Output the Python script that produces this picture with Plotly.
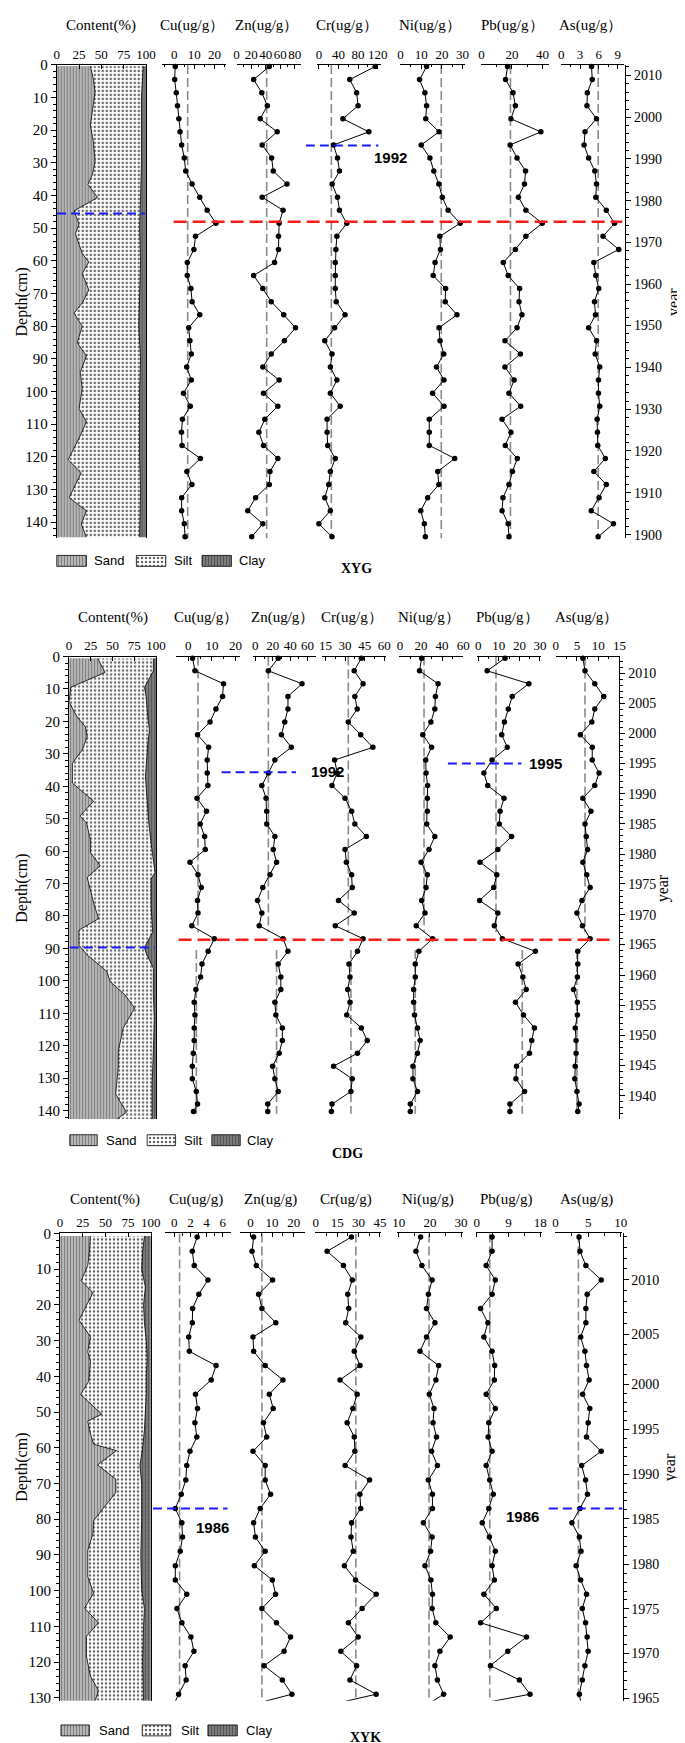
import numpy as np
import plotly.graph_objects as go

W, H = 685, 1743
SERIF = 'Liberation Serif'
SANS = 'Liberation Sans'
METALS = ['Cu', 'Zn', 'Cr', 'Ni', 'Pb', 'As']

# ---------------- XYG core ----------------
xyg_depth = [0.5, 4.5, 8.5, 12.5, 16.5, 20.5, 24.5, 28.5, 32.5, 36.5, 40.5, 44.5, 48.5,
             52.5, 56.5, 60.5, 64.5, 68.5, 72.5, 76.5, 80.5, 84.5, 88.5, 92.5, 96.5,
             100.5, 104.5, 108.5, 112.5, 116.5, 120.5, 124.5, 128.5, 132.5, 136.5, 140.5, 144.5]
xyg_cu = [0.5, 0.2, 1.0, 1.6, 2.3, 2.9, 3.7, 5.0, 5.7, 8.9, 12.7, 16.4, 20.8, 10.6, 9.8, 6.5, 6.5,
          8.3, 8.9, 12.7, 7.2, 7.8, 8.5, 6.2, 8.5, 4.6, 8.0, 4.1, 3.6, 3.9, 13.0, 6.3, 8.8, 3.7,
          3.7, 5.0, 5.4]
xyg_zn = [44.9, 23.4, 34.6, 42.2, 32.4, 55.7, 35.1, 48.1, 50.3, 69.2, 35.1, 63.8, 58.4, 57.5,
          57.5, 52.1, 23.4, 36.0, 47.6, 64.7, 80.9, 65.6, 47.6, 36.0, 58.4, 36.9, 56.6, 38.7,
          30.6, 36.9, 56.6, 45.8, 44.9, 26.1, 15.3, 36.0, 20.7]
xyg_cr = [115, 63, 77, 80, 49, 102, 30, 38, 42, 27, 38, 42, 57, 36.7, 34.7, 33.4, 33.4, 33.4,
          35.4, 53.4, 32, 12, 26.7, 23.4, 36.7, 23.4, 43.4, 16.7, 16.7, 18, 33.4, 23.4, 20, 12,
          23.4, 0, 26.7]
xyg_ni = [12.6, 9.2, 11.8, 12.6, 12.2, 18.6, 10, 14.2, 16.1, 18.5, 20.2, 23, 28.8, 19, 19.3,
          16.7, 15.8, 21.8, 21.6, 27.3, 18.6, 19.1, 20.9, 17.4, 21, 15.5, 21, 13.9, 13.9, 13.9,
          26.2, 18, 18.5, 13.1, 9.8, 11.5, 12]
xyg_pb = [17.1, 15.8, 20.7, 22.2, 19.3, 38.9, 18.8, 23.3, 28.9, 28.2, 24.2, 29.1, 39.8, 29.1,
          22.2, 14.3, 17.5, 25, 24.6, 26.5, 23.3, 15.4, 25.5, 15.4, 21.4, 18, 25.7, 13.5, 19.3,
          15.6, 23.5, 20.3, 18, 14.1, 13.5, 17.5, 18]
xyg_as = [4.84, 4.95, 4.17, 4.11, 5.63, 3.8, 3.65, 4.38, 5.36, 5.63, 5.52, 7.19, 8.5, 6.67, 9.17,
          5.21, 5.52, 5.99, 5.31, 5.47, 4.38, 5.63, 5.42, 6.15, 5.94, 5.94, 6.15, 5.73, 5.78,
          5.83, 7.03, 5.21, 7.19, 6.04, 4.79, 8.33, 5.89]
xyg_bg = [6.7, 41.3, 25.4, 19.7, 19.0, 5.9]
xyg_ticks = [[0, 10, 20], [0, 20, 40, 60, 80], [0, 40, 80, 120], [0, 10, 20, 30], [0, 20, 40], [0, 3, 6, 9]]
xyg_years = [2010, 2000, 1990, 1980, 1970, 1960, 1950, 1940, 1930, 1920, 1910, 1900]
xyg_year_depth = [3.2, 16.1, 28.7, 41.6, 54.4, 67.1, 79.8, 92.6, 105.5, 118.2, 131.0, 143.9]
xyg_sand_depth = [0.4, 4.3, 8.3, 15.4, 18.4, 23.4, 29.5, 33.6, 36.6, 40.6, 44.7, 48.7, 51.7, 57.8,
                  60.3, 63.9, 68.9, 72.9, 76, 80, 85.1, 89.1, 94.1, 99.2, 105.2, 109.3, 114.3,
                  120.9, 124.9, 132.5, 136.5, 140.6, 144.6]
xyg_sand = [37.7, 41, 43, 39.5, 37.7, 41, 43, 40, 35, 45.8, 19.4, 25, 21, 28.6, 36, 28.6, 36,
            28.6, 19.4, 28.6, 23, 33.3, 26.4, 28.6, 25, 33.3, 25, 12.8, 27.5, 13.9, 33.3, 27.5, 33.3]
xyg_clay_depth = [0.4, 10, 20, 30, 40, 50, 60, 70, 80, 90, 100, 110, 120, 130, 140, 144.6]
xyg_clay = [97, 95, 95, 95, 94, 93, 94, 93, 92, 94, 93, 93, 93, 94, 93, 93]
xyg_red = 48.0
xyg_blue_content = 45.5
xyg_1992 = 24.7

# ---------------- CDG core ----------------
cdg_depth = [0.5, 4.4, 8.4, 12.3, 16.2, 20.2, 24.1, 28.0, 31.9, 35.9, 39.8, 43.7, 47.7, 51.6,
             55.5, 59.5, 63.4, 67.3, 71.2, 75.2, 79.1, 83.0, 87.0, 90.9, 94.8, 98.8, 102.7,
             106.6, 110.5, 114.5, 118.4, 122.3, 126.3, 130.2, 134.1, 138.0, 140.3]
cdg_cu = [1.8, 2.8, 14.9, 14.5, 11.7, 9.2, 3.9, 8.6, 8.0, 8.0, 8.3, 3.7, 7.7, 5.0, 6.9, 7.2, 0.7,
          4.1, 5.5, 3.9, 4.1, 1.5, 11.0, 8.4, 5.8, 5.2, 3.2, 2.5, 2.8, 2.5, 2.5, 2.1, 1.7, 1.7,
          3.4, 3.9, 2.2]
cdg_zn = [26.3, 15, 53.6, 37.5, 37.5, 33.8, 30, 41.3, 22.5, 15, 7.5, 12.4, 13.1, 13.1, 22.5,
          20.6, 24.4, 16.9, 8.6, 2.6, 7.5, 4.5, 31.9, 37.5, 26.3, 29.3, 29.3, 22.5, 23.6, 31.1,
          31.1, 27.4, 19.9, 22.5, 26.3, 14.3, 14.3]
cdg_cr = [42.5, 37, 43.8, 37.5, 39.3, 32.5, 42, 51.3, 22, 24, 20, 30, 35, 37.5, 46.3, 30, 31, 35,
          35.5, 25, 37, 22.5, 43.8, 39.5, 33, 33.8, 32, 33.8, 31.3, 42.5, 47, 39.5, 21.2, 35.5,
          34.5, 20, 19.5]
cdg_ni = [20.7, 18.6, 36.2, 33.7, 33.1, 29.4, 21.7, 30, 24.5, 24.8, 26.3, 26, 26, 25.4, 33.1,
          27.6, 20.1, 26, 24.8, 20.7, 23.8, 15.5, 31, 18, 14.6, 14.6, 13, 13, 13.9, 16.7, 19.2,
          16.7, 12.4, 12.4, 16.7, 9.9, 9.9]
cdg_pb = [13, 4.3, 24.6, 16.5, 14.6, 12.7, 11.4, 14.1, 6.7, 2.7, 4.6, 12.5, 10.6, 10.2, 16.2,
          9.5, 0.8, 9.0, 7.5, 0.6, 9.5, 7.8, 11.7, 27.8, 19.4, 21.7, 23.3, 18.1, 22, 27.3, 26,
          24.9, 18.6, 18.3, 22.5, 15.4, 15.4]
cdg_as = [6.4, 6.9, 9.2, 11.3, 9.2, 8.5, 5.8, 8.6, 8.6, 10.2, 9.2, 6.4, 8.3, 6.9, 7.2, 7.5, 6.4,
          7.3, 8.1, 6.2, 5.0, 6.3, 8.1, 5.2, 5.2, 5.1, 4.2, 5.1, 5.1, 4.6, 4.8, 4.8, 4.6, 4.5,
          5.0, 5.5, 5.2]
cdg_bg_upper = [4.1, 15, 32.5, 22.9, 8.6, 6.9]
cdg_bg_lower = [3.4, 24.4, 34.5, 14.6, 21.4, 5.0]
cdg_ticks = [[0, 10, 20], [0, 20, 40, 60], [15, 30, 45, 60], [0, 20, 40, 60], [0, 10, 20, 30], [0, 5, 10, 15]]
cdg_years = [2010, 2005, 2000, 1995, 1990, 1985, 1980, 1975, 1970, 1965, 1960, 1955, 1950, 1945, 1940]
cdg_year_depth = [5.2, 14.4, 23.7, 32.9, 42.3, 51.6, 60.9, 70.1, 79.6, 88.8, 98.2, 107.5, 116.8, 126.0, 135.4]
cdg_sand_depth = [0.6, 4.9, 9.5, 12.5, 14.1, 18.7, 21.7, 24.8, 28.8, 32.9, 39, 44.6, 49.2, 51.3,
                  56.4, 60.4, 64.5, 68.1, 76.7, 80.8, 84.4, 89, 92, 97.1, 100.2, 104.3, 108.4,
                  114.5, 121.6, 126.7, 134.9, 140.5, 142.7]
cdg_sand = [32.8, 41.5, 1.9, 1.1, 0, 9.4, 18.9, 20.8, 15.1, 3.8, 3.8, 28.3, 12.5, 20, 24.5, 24.5,
            35.8, 20.8, 29, 34, 11.3, 11.3, 20.8, 43.4, 47.2, 64.2, 75.5, 62.3, 56.6, 56.6, 53.6,
            66, 54.7]
cdg_clay_depth = [0.6, 4.4, 9.5, 12.5, 18.7, 22.7, 26.8, 32.9, 37, 43.1, 51.3, 57.4, 63.5, 66.6,
                  68.6, 76.7, 84.9, 89.7, 91.5, 96.1, 104.3, 111.4, 121.6, 131.8, 141, 142.7]
cdg_clay = [97, 97, 86.8, 88.7, 90.6, 92.5, 90.6, 88.7, 87.9, 89.4, 91.7, 94.3, 97, 98.9, 94.3,
            94.3, 96.2, 86.8, 88.7, 97, 97, 98, 97, 95.5, 95.5, 95.5]
cdg_red = 87.3
cdg_blue_content = 89.7
cdg_1992 = 35.7
cdg_1995 = 33.0

# ---------------- XYK core ----------------
xyk_depth = [1, 5, 9, 13, 17, 21, 25, 29, 33, 37, 41, 45, 49, 53, 57, 61, 65, 69, 73, 77, 81,
             85, 89, 93, 97, 101, 105, 109, 113, 117, 121, 125, 129, 131]
xyk_cu = [2.83, 2.23, 2.47, 4.17, 3.04, 2.27, 2.23, 1.78, 1.86, 5.18, 4.57, 2.63, 2.87, 2.55,
          2.79, 1.94, 1.54, 1.42, 0.85, 0.12, 0.93, 1.01, 0.73, 0.12, 0.12, 1.54, 0.32, 0.93,
          2.06, 2.43, 1.34, 1.46, 0.53, 0.12]
xyk_zn = [1.5, 0.75, 2.7, 10.2, 3.8, 5.3, 11.7, 1.2, 1.5, 6.8, 15, 8.7, 10.5, 6, 7.5, 1.2, 6.8,
          6.8, 9.3, 4.5, 1.5, 2.3, 6.8, 1.8, 10.1, 11.6, 5.3, 12, 18.5, 15.5, 6.3, 14.7, 19.1, 6.5]
xyk_cr = [25, 8, 19.4, 25.6, 22.4, 23.1, 21, 31.6, 27, 31, 17, 29, 26, 22, 27, 27.4, 20.6, 37.7,
          30.9, 31.5, 25.1, 24.7, 26.3, 20.1, 27.9, 42.3, 32.5, 22.9, 29.7, 17.6, 28.6, 24, 42.3, 20.6]
xyk_ni = [17.0, 15.5, 17.4, 20.7, 19.5, 18.9, 21.6, 18.9, 16.8, 22.8, 21.9, 19.8, 21.3, 21, 22.1,
          20.5, 22.4, 19.5, 20.8, 20.8, 17.9, 20.7, 20.2, 18.4, 20.3, 20.8, 20.7, 21.9, 26.5,
          23.2, 21.6, 22.4, 24.4, 20.8]
xyk_pb = [4.36, 4.36, 2.69, 5.28, 4.36, 1.11, 3.16, 2.04, 4.36, 5.1, 5.0, 2.69, 5.28, 3.43, 3.24,
          4.36, 2.69, 3.7, 4.7, 3.43, 1.58, 3.6, 5.28, 4.36, 5.0, 2.04, 5.56, 1.11, 14.1, 8.8,
          3.9, 12.1, 15.1, 4.36]
xyk_as = [3.6, 3.75, 4.65, 7.0, 4.85, 4.65, 4.65, 3.85, 4.5, 4.75, 5.15, 4.15, 5.25, 5.0, 4.75,
          7.0, 4.0, 4.6, 4.9, 3.75, 2.5, 3.65, 3.9, 3.15, 3.85, 4.75, 4.1, 4.6, 4.85, 5.0, 4.5,
          4.1, 3.65, 3.85]
xyk_bg = [0.65, 5.3, 28.1, 19.7, 3.7, 3.5]
xyk_ticks = [[0, 2, 4, 6], [0, 10, 20], [0, 15, 30, 45], [10, 20, 30], [0, 9, 18], [0, 5, 10]]
xyk_years = [2010, 2005, 2000, 1995, 1990, 1985, 1980, 1975, 1970, 1965]
xyk_year_depth = [13.0, 28.3, 42.2, 54.9, 67.4, 79.9, 92.6, 105.1, 117.6, 130.2]
xyk_sand_depth = [0.7, 5.3, 9, 13.2, 16.6, 20.1, 24.3, 28.9, 33.1, 35.8, 41.4, 45.1, 50.6, 52.5,
                  55.3, 59, 60.8, 64.8, 68.8, 72.5, 80.4, 84.1, 88.7, 96.1, 100.7, 104.9, 109,
                  112.8, 118.3, 123.9, 128, 130.8]
xyk_sand = [33.5, 32.4, 30.6, 23.4, 36.3, 29.1, 20.9, 33.5, 30.6, 33.5, 31.7, 22.7, 46, 30.6,
            32.7, 37, 62.2, 41.4, 61.5, 61.5, 37, 36.3, 30.6, 30.6, 37, 27, 42.4, 29.1, 29.1,
            33.5, 42.4, 38.8]
xyk_clay_depth = [0.7, 5, 10, 15, 20, 25, 30, 35, 40, 45, 50, 55, 60, 65, 70, 80, 90, 100, 105,
                  110, 120, 130.8]
xyk_clay = [93, 91, 90, 94, 92, 93, 95, 96, 95, 95, 94, 93, 91, 88, 90, 90, 89, 90, 93, 92, 91, 92]
xyk_1986 = 77.0

# ---------------- page geometry (pixels) ----------------
def px(x):
    return x / W


def py(y):
    return 1 - y / H


SAND = dict(shape='|', bgcolor='#c2c2c2', fgcolor='#7e7e7e', size=3, solidity=0.45, fillmode='replace')
SILT = dict(shape='.', bgcolor='#ffffff', fgcolor='#666666', size=4, solidity=0.3, fillmode='replace')
CLAY = dict(shape='|', bgcolor='#878787', fgcolor='#555555', size=3, solidity=0.5, fillmode='replace')

panels = [
    dict(name='XYG', paren='）', depth=xyg_depth,
         values=[xyg_cu, xyg_zn, xyg_cr, xyg_ni, xyg_pb, xyg_as], ticks=xyg_ticks,
         bg=[[(v, 0, 145)] for v in xyg_bg],
         years=xyg_years, year_depth=xyg_year_depth, year_step=2,
         sand_depth=xyg_sand_depth, sand=xyg_sand, clay_depth=xyg_clay_depth, clay=xyg_clay,
         top=49.3, bottom=526.7, dmax=145, content=(45.7, 136.7),
         strips=[(152.7, 218.3), (229.3, 294.7), (311.7, 377), (396, 462.3), (478.3, 548.3), (560, 625)],
         ranges=[(-6.3, 25.7), (0, 88), (-3.2, 127.4), (-0.3, 31.1), (-0.6, 44.3), (-0.1, 10.05)],
         year_x=626, year_title_x=675, title_y=10,
         legend_y=549.3, legend=[(45.7, 76, 82), (127, 157, 163), (194, 224, 230)],
         label_xy=(352, 557),
         red=(xyg_red, 165, 623),
         blues=[(xyg_blue_content, 46, 136), (xyg_1992, 300, 374)],
         notes=[('1992', 386.7, 142.7)]),
    dict(name='CDG', paren='）', depth=cdg_depth,
         values=[cdg_cu, cdg_zn, cdg_cr, cdg_ni, cdg_pb, cdg_as], ticks=cdg_ticks,
         bg=[[(u, 0, 85), (l, 90.5, 141)] for u, l in zip(cdg_bg_upper, cdg_bg_lower)],
         years=cdg_years, year_depth=cdg_year_depth, year_step=1,
         sand_depth=cdg_sand_depth, sand=cdg_sand, clay_depth=cdg_clay_depth, clay=cdg_clay,
         top=645.7, bottom=1112.3, dmax=142.7, content=(58.3, 147),
         strips=[(167.7, 232.3), (245.7, 310), (316.7, 381.7), (395, 460.7), (475, 540), (555, 621)],
         ranges=[(-5.1, 21.7), (-3, 69.3), (12.5, 61.3), (-0.9, 60.1), (-0.5, 30.5), (0, 15.2)],
         year_x=620, year_title_x=665, title_y=606.7,
         legend_y=1133.3, legend=[(59, 87, 94), (138, 167, 174), (204, 233, 238)],
         label_xy=(343, 1147),
         red=(cdg_red, 170, 612),
         blues=[(cdg_blue_content, 59, 146), (cdg_1992, 214, 290), (cdg_1995, 445, 520)],
         notes=[('1992', 321.7, 762), ('1995', 544.5, 753.3)]),
    dict(name='XYK', paren=')', depth=xyk_depth,
         values=[xyk_cu, xyk_zn, xyk_cr, xyk_ni, xyk_pb, xyk_as], ticks=xyk_ticks,
         bg=[[(v, 0, 130.8)] for v in xyk_bg],
         years=xyk_years, year_depth=xyk_year_depth, year_step=1,
         sand_depth=xyk_sand_depth, sand=xyk_sand, clay_depth=xyk_clay_depth, clay=xyk_clay,
         top=1227.3, bottom=1698.3, dmax=130.8, content=(49, 141.7),
         strips=[(156.7, 223.3), (232.3, 299), (309.3, 376.7), (392.7, 460), (473.3, 540.7), (554.3, 622.7)],
         ranges=[(-1.1, 7.0), (-5, 25.1), (-0.5, 45.7), (9.3, 30.5), (-0.3, 18.4), (-0.1, 10.2)],
         year_x=623.3, year_title_x=672, title_y=1192.7,
         legend_y=1728.3, legend=[(50, 79, 87), (133, 162, 170), (200, 230, 237)],
         label_xy=(361, 1735),
         red=None,
         blues=[(xyk_1986, 144, 220), (xyk_1986, 548, 623)],
         notes=[('1986', 205, 1523.3), ('1986', 521.5, 1512.7)]),
]


def axname(kind, i):
    return f'{kind}axis' if i == 1 else f'{kind}axis{i}'


def ref(kind, i):
    return kind if i == 1 else f'{kind}{i}'


def year_minor(years, depths, step, dmax):
    ys = np.array(years[::-1], dtype=float)
    ds = np.array(depths[::-1], dtype=float)
    out = []
    for yr in np.arange(ys[0] - 10, ys[-1] + 10, step):
        if yr in years:
            continue
        if yr > ys[-1]:
            d = ds[-1] + (yr - ys[-1]) * (ds[-1] - ds[-2]) / (ys[-1] - ys[-2])
        elif yr < ys[0]:
            d = ds[0] + (yr - ys[0]) * (ds[1] - ds[0]) / (ys[1] - ys[0])
        else:
            d = float(np.interp(yr, ys, ds))
        if 0 <= d <= dmax:
            out.append(d)
    return out


fig = go.Figure()
layout = {}
shapes = []
annotations = []


def text(t, x, y, size=15, family=SERIF, xanchor='center', angle=0, bold=False):
    if bold:
        t = f'<b>{t}</b>'
    annotations.append(dict(text=t, x=px(x), y=py(y), xref='paper', yref='paper', showarrow=False,
                            xanchor=xanchor, yanchor='middle', textangle=angle,
                            font=dict(family=family, size=size, color='black')))


for p, g in enumerate(panels):
    xi0 = 7 * p + 1
    yd, yy = 2 * p + 1, 2 * p + 2
    dmax = g['dmax']
    ydom = [py(g['bottom']), py(g['top'])]
    xr0, yr = ref('x', xi0), ref('y', yd)

    layout[axname('y', yd)] = dict(
        domain=ydom, range=[dmax, 0], anchor=xr0, showline=True, linecolor='black', linewidth=1,
        mirror=True, ticks='outside', ticklen=5, tickcolor='black', tick0=0, dtick=10,
        minor=dict(tick0=0, dtick=2, ticks='outside', ticklen=3, tickcolor='black'),
        showgrid=False, zeroline=False, tickfont=dict(family=SERIF, size=15, color='black'))
    layout[axname('y', yy)] = dict(
        overlaying=yr, anchor='free', position=px(g['year_x']), side='right', range=[dmax, 0],
        showline=True, linecolor='black', linewidth=1, ticks='outside', ticklen=5, tickcolor='black',
        tickmode='array', tickvals=g['year_depth'], ticktext=[str(v) for v in g['years']],
        minor=dict(tickmode='array', tickvals=year_minor(g['years'], g['year_depth'], g['year_step'], dmax),
                   ticks='outside', ticklen=3, tickcolor='black'),
        showgrid=False, zeroline=False, tickfont=dict(family=SERIF, size=14, color='black'))
    fig.add_trace(go.Scatter(x=[50], y=[dmax / 2], xaxis=xr0, yaxis=ref('y', yy), mode='markers',
                             marker=dict(opacity=0), hoverinfo='skip', showlegend=False))

    # grain size content strip
    c0, c1 = g['content']
    layout[axname('x', xi0)] = dict(
        domain=[px(c0), px(c1)], range=[0, 100], anchor=yr, side='top', showline=True,
        linecolor='black', linewidth=1, tickmode='array', tickvals=[0, 25, 50, 75, 100],
        ticks='inside', ticklen=4, tickcolor='black', tickangle=0, showgrid=False, zeroline=False,
        tickfont=dict(family=SERIF, size=13, color='black'))
    sd, sv = g['sand_depth'], g['sand']
    cd, cv = g['clay_depth'], g['clay']
    common = dict(xaxis=xr0, yaxis=yr, hoverinfo='skip', showlegend=False)
    fig.add_trace(go.Scatter(x=[0, 100, 100, 0], y=[sd[0], sd[0], sd[-1], sd[-1]], fill='toself',
                             fillpattern=SILT, mode='lines', line=dict(width=0), **common))
    fig.add_trace(go.Scatter(x=[0] + sv + [0], y=[sd[0]] + sd + [sd[-1]], fill='toself',
                             fillpattern=SAND, mode='lines', line=dict(width=0), **common))
    fig.add_trace(go.Scatter(x=cv + [100, 100], y=cd + [cd[-1], cd[0]], fill='toself',
                             fillpattern=CLAY, mode='lines', line=dict(width=0), **common))
    fig.add_trace(go.Scatter(x=sv, y=sd, mode='lines', line=dict(color='black', width=0.8), **common))
    fig.add_trace(go.Scatter(x=cv, y=cd, mode='lines', line=dict(color='black', width=0.8), **common))

    # metal strips
    for j, m in enumerate(METALS):
        xi = xi0 + 1 + j
        s0, s1 = g['strips'][j]
        lo, hi = g['ranges'][j]
        tv = g['ticks'][j]
        step = tv[1] - tv[0]
        minor_vals = [v for v in np.arange(tv[0] - step, hi, step / 2.0)
                      if lo <= v <= hi and not any(abs(v - t) < 1e-9 for t in tv)]
        layout[axname('x', xi)] = dict(
            domain=[px(s0), px(s1)], range=[lo, hi], anchor=yr, side='top', showline=True,
            linecolor='black', linewidth=1, tickmode='array', tickvals=tv, ticks='inside',
            ticklen=4, tickcolor='black', tickangle=0,
            minor=dict(tickmode='array', tickvals=minor_vals, ticks='inside', ticklen=2.5, tickcolor='black'),
            showgrid=False, zeroline=False, tickfont=dict(family=SERIF, size=13, color='black'))
        xr = ref('x', xi)
        for bv, da, db in g['bg'][j]:
            fig.add_trace(go.Scatter(x=[bv, bv], y=[da, db], mode='lines', xaxis=xr, yaxis=yr,
                                     line=dict(color='#8a8a8a', width=1.6, dash='9px,4px'),
                                     hoverinfo='skip', showlegend=False))
        fig.add_trace(go.Scatter(x=g['values'][j], y=g['depth'], mode='lines+markers', xaxis=xr, yaxis=yr,
                                 line=dict(color='black', width=1), marker=dict(color='black', size=5.5),
                                 cliponaxis=False, name=m, showlegend=False))
        text(f'{m}(ug/g{g["paren"]}', (s0 + s1) / 2 - 2, g['title_y'])

    text('Content(%)', (c0 + c1) / 2, g['title_y'])
    text('Depth(cm)', 10, (g['top'] + g['bottom']) / 2, size=16, angle=-90)
    text('year', g['year_title_x'], (g['top'] + g['bottom']) / 2, size=16, angle=-90)
    text(g['name'], g['label_xy'][0], g['label_xy'][1], size=14, bold=True)

    if g['red'] is not None:
        rd, r0, r1 = g['red']
        shapes.append(dict(type='line', xref='paper', yref=yr, x0=px(r0), x1=px(r1), y0=rd, y1=rd,
                           line=dict(color='#ff1a1a', width=2.5, dash='13px,6px')))
    for bd, b0, b1 in g['blues']:
        shapes.append(dict(type='line', xref='paper', yref=yr, x0=px(b0), x1=px(b1), y0=bd, y1=bd,
                           line=dict(color='#1a1aff', width=2, dash='9px,5px')))
    for t, x, y in g['notes']:
        text(t, x, y, size=15, family=SANS, bold=True)

    # legend swatches (pixel overlay axes)
    ly = g['legend_y']
    for (a, b, tx), pat, lab in zip(g['legend'], [SAND, SILT, CLAY], ['Sand', 'Silt', 'Clay']):
        fig.add_trace(go.Scatter(x=[a, b, b, a, a], y=[ly - 5.5, ly - 5.5, ly + 5.5, ly + 5.5, ly - 5.5],
                                 fill='toself', fillpattern=pat, mode='lines',
                                 line=dict(color='black', width=0.8), xaxis='x22', yaxis='y7',
                                 hoverinfo='skip', showlegend=False))
        text(lab, tx, ly, size=13, family=SANS, xanchor='left')

layout['xaxis22'] = dict(domain=[0, 1], range=[0, W], visible=False, anchor='y7')
layout['yaxis7'] = dict(domain=[0, 1], range=[H, 0], visible=False, anchor='x22')

fig.update_layout(**layout)
fig.update_layout(width=W, height=H, autosize=False, margin=dict(l=0, r=0, t=0, b=0),
                  paper_bgcolor='white', plot_bgcolor='rgba(0,0,0,0)', showlegend=False,
                  shapes=shapes, annotations=annotations)

fig.write_html("out.html")
